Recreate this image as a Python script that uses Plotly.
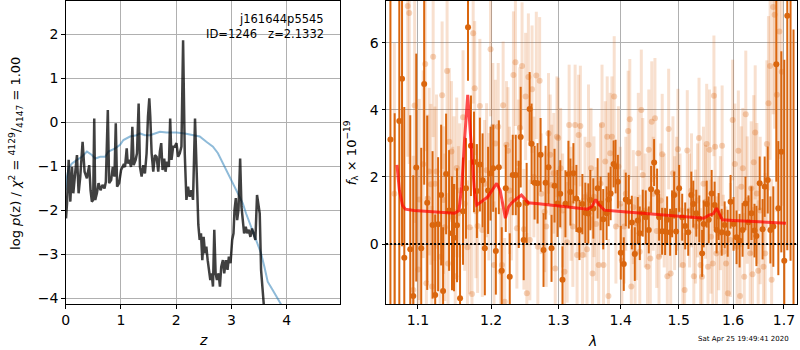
import plotly.graph_objects as go

# ---------------- left panel: p(z) ----------------
z_fit = [0.006, 0.024, 0.054, 0.084, 0.114, 0.138, 0.174, 0.204, 0.234, 0.264,
         0.306, 0.342, 0.384, 0.426, 0.450, 0.474, 0.498, 0.517, 0.535, 0.565,
         0.595, 0.631, 0.667, 0.703, 0.727, 0.763, 0.787, 0.823, 0.853, 0.883,
         0.907, 0.931, 0.967, 1.003, 1.045, 1.075, 1.105, 1.123, 1.153, 1.183,
         1.207, 1.231, 1.267, 1.291, 1.321, 1.345, 1.375, 1.405, 1.435, 1.465,
         1.490, 1.514, 1.532, 1.556, 1.586, 1.616, 1.646, 1.676, 1.706, 1.730,
         1.754, 1.784, 1.808, 1.832, 1.868, 1.892, 1.916, 1.946, 1.976, 2.006,
         2.036, 2.066, 2.096, 2.126, 2.156, 2.186, 2.216, 2.246, 2.276, 2.306,
         2.342, 2.366, 2.384, 2.402, 2.426, 2.450, 2.474, 2.498, 2.523, 2.547,
         2.571, 2.595, 2.619, 2.643, 2.667, 2.691, 2.715, 2.739, 2.769, 2.793,
         2.817, 2.847, 2.871, 2.901, 2.931, 2.955, 2.985, 3.015, 3.039, 3.057,
         3.081, 3.105, 3.129, 3.159, 3.183, 3.207, 3.231, 3.261, 3.285, 3.315,
         3.345, 3.375, 3.405, 3.435, 3.465, 3.495, 3.514, 3.538, 3.568, 3.598, 3.640]
lnp_fit = [-2.19, -1.85, -0.86, -1.81, -1.02, -1.62, -1.13, -0.75, -1.62, -1.24,
           -0.45, -1.13, -1.28, -0.98, -1.55, -1.81, -1.77, 0.08, -1.77, -1.62,
           -1.39, -1.55, -1.43, -1.51, -1.36, 0.27, -1.39, -1.32, -1.02, -1.24,
           -0.03, -1.47, -1.39, -1.09, -0.98, -1.02, -0.60, -0.94, -0.86, -1.02,
           -0.11, -0.98, -0.86, -0.71, 0.42, -1.02, -1.24, -0.98, -1.17, -0.71,
           0.12, 0.54, 0.12, -0.71, -1.13, -0.75, -0.79, -1.13, -0.67, -0.48,
           -1.09, -0.83, -1.13, -0.90, -1.02, 0.08, -0.86, -0.56, -0.56, -0.48,
           -0.79, -0.71, -0.56, 1.86, -0.71, -1.77, -1.47, -1.70, -1.55, -1.77,
           0.08, -1.17, -1.62, -2.34, -2.68, -2.53, -3.14, -2.61, -2.98, -2.83,
           -3.14, -3.44, -3.59, -3.44, -3.74, -2.45, -3.44, -3.59, -3.44, -3.74,
           -3.29, -3.14, -3.44, -3.14, -3.36, -3.06, -3.21, -2.68, -2.53, -2.00,
           -1.73, -2.23, -2.00, -0.83, -1.92, -2.23, -2.53, -2.38, -2.53, -2.45,
           -2.61, -2.42, -2.53, -2.68, -1.66, -2.00, -2.08, -3.36, -3.74, -4.12, -5.00]

z_prior = [0.0, 0.012, 0.054, 0.114, 0.204, 0.294, 0.384, 0.474, 0.535, 0.625,
           0.715, 0.775, 0.895, 0.985, 1.045, 1.165, 1.285, 1.345, 1.435, 1.525,
           1.616, 1.706, 1.826, 2.006, 2.156, 2.306, 2.427, 2.547, 2.667, 2.757,
           2.847, 2.937, 3.027, 3.117, 3.207, 3.267, 3.357, 3.447, 3.537, 3.598,
           3.658, 3.748, 3.838, 3.898, 3.950]
lnp_prior = [-1.55, -1.32, -1.05, -0.94, -0.86, -0.79, -0.67, -0.75, -0.83, -0.79,
             -0.79, -0.67, -0.60, -0.52, -0.41, -0.33, -0.30, -0.26, -0.30, -0.30,
             -0.26, -0.22, -0.24, -0.24, -0.26, -0.30, -0.33, -0.45, -0.56, -0.71,
             -0.94, -1.17, -1.39, -1.62, -1.85, -2.08, -2.38, -2.68, -2.98, -3.29,
             -3.63, -3.82, -4.01, -4.14, -4.30]

z_ticks = [0, 1, 2, 3, 4]
lnp_ticks = [-4, -3, -2, -1, 0, 1, 2]

# ---------------- right panel: spectrum ----------------
lam_a = [1.0646, 1.0700, 1.0759, 1.0794, 1.0823, 1.0900, 1.0939, 1.0978, 1.1043, 1.1082,
         1.1122, 1.1193, 1.1228, 1.1267, 1.1308, 1.1334, 1.1375, 1.1415, 1.1455, 1.1482,
         1.1523, 1.1565, 1.1606, 1.1647, 1.1675, 1.1716, 1.1758, 1.1799, 1.1841, 1.1879,
         1.1911, 1.1957, 1.1992, 1.2030, 1.2068, 1.2111, 1.2153, 1.2211, 1.2269, 1.2313,
         1.2357, 1.2401, 1.2430, 1.2474, 1.2518, 1.2563, 1.2592, 1.2637, 1.2682, 1.2727,
         1.2772, 1.2803, 1.2848, 1.2894, 1.2940, 1.2986, 1.3028, 1.3063, 1.3109, 1.3156,
         1.3187, 1.3234, 1.3281, 1.3329, 1.3376, 1.3423, 1.3471, 1.3503, 1.3551, 1.3621,
         1.3670, 1.3712, 1.3767, 1.3800, 1.3833, 1.3882, 1.3915, 1.3953, 1.4001, 1.4051,
         1.4085, 1.4135, 1.4186, 1.4236, 1.4287, 1.4321, 1.4372, 1.4423, 1.4475, 1.4515,
         1.4567, 1.4619, 1.4654, 1.4706, 1.4759, 1.4794, 1.4847, 1.4882, 1.4918, 1.4953,
         1.5007, 1.5062, 1.5116, 1.5170, 1.5226, 1.5262, 1.5316, 1.5371, 1.5423, 1.5452,
         1.5507, 1.5544, 1.5599, 1.5654, 1.5691, 1.5729, 1.5786, 1.5842, 1.5899, 1.5954,
         1.6011, 1.6068, 1.6126, 1.6183, 1.6239, 1.6297, 1.6355, 1.6414, 1.6452, 1.6516,
         1.6573, 1.6614, 1.6675, 1.6727, 1.6786, 1.6846, 1.6886, 1.6946, 1.7006, 1.7067,
         1.7133, 1.7194]
flux_a = [3.12, -2.60, 3.67, 4.93, -0.41, -0.16, -1.55, 2.28, -0.13, 4.77,
          1.23, 0.57, -1.52, 0.59, 1.46, -1.40, 2.09, 1.00, 0.32, 0.19,
          0.56, -1.62, 0.98, 1.66, 6.47, 2.93, 2.45, 1.58, 2.37, 1.90,
          -0.13, 1.60, 2.10, 2.26, -0.21, 2.29, -0.80, 1.66, -0.98, 2.06,
          2.06, 1.18, 3.19, 0.12, 1.22, 4.03, 2.99, 1.83, 1.81, 2.66,
          -0.18, 1.83, 2.29, -0.13, 1.74, 1.21, 1.50, -1.07, 1.20, 2.08,
          1.55, 2.11, 1.36, 0.42, 1.19, 0.93, 0.91, 1.31, 1.06, 1.66,
          1.21, 0.74, 0.92, 1.33, 1.51, 2.39, 2.31, 1.86, -0.26, -0.60,
          1.33, 1.26, 0.64, -0.30, 0.70, 0.32, 0.92, 0.80, 0.42, 1.63,
          2.43, 1.55, 0.80, 0.38, 0.37, 0.72, 0.35, 0.90, 1.46, 0.37,
          1.66, 0.80, 0.54, 0.35, 1.46, 1.19, 0.92, 0.75, -0.28, 0.60,
          1.19, 0.72, 1.51, 1.16, 0.42, 0.82, 0.35, 0.57, 0.32, 1.26,
          0.60, 0.20, 0.10, 0.42, 1.21, 0.65, 0.92, 0.40, 0.24, 1.81,
          0.44, 1.71, 1.91, 0.42, 0.52, 5.36, 1.07, 2.75, -0.50, 6.81,
          8.50, -2.60]
err_a = [6.0, 6.5, 5.5, 5.0, 4.5, 4.0, 3.6, 3.4, 3.0, 3.0,
         2.6, 2.2, 2.4, 2.0, 2.1, 1.9, 1.8, 1.8, 1.7, 1.6,
         1.7, 1.6, 1.6, 1.5, 1.6, 1.5, 1.5, 1.4, 1.4, 1.4,
         1.4, 1.3, 1.4, 1.3, 1.3, 1.4, 1.3, 1.3, 1.3, 1.2,
         1.2, 1.3, 1.5, 1.2, 1.2, 1.1, 1.2, 1.1, 1.2, 1.1,
         1.1, 1.1, 1.1, 1.0, 1.1, 1.0, 1.0, 1.0, 1.0, 1.0,
         1.0, 0.9, 1.0, 0.9, 0.9, 0.9, 0.9, 0.9, 0.9, 0.9,
         0.8, 0.9, 0.8, 0.8, 0.8, 0.7, 0.8, 0.8, 0.8, 0.8,
         0.8, 0.8, 0.8, 0.8, 0.7, 0.8, 0.7, 0.8, 0.7, 0.7,
         0.7, 0.7, 0.7, 0.7, 0.7, 0.7, 0.7, 0.7, 0.7, 0.7,
         0.7, 0.7, 0.7, 0.7, 0.7, 0.7, 0.7, 0.7, 0.7, 0.7,
         0.7, 0.7, 0.7, 0.7, 0.7, 0.7, 0.7, 0.7, 0.7, 0.8,
         0.8, 0.8, 0.8, 0.8, 0.8, 0.8, 0.8, 0.8, 0.9, 0.8,
         0.9, 0.9, 1.0, 1.0, 1.2, 3.5, 2.0, 3.0, 6.0, 7.0,
         9.0, 9.0]

lam_b = [1.0696, 1.0867, 1.0887, 1.0939, 1.0957, 1.1004, 1.1017, 1.1069, 1.1096, 1.1111,
         1.1129, 1.1148, 1.1171, 1.1184, 1.1201, 1.1224, 1.1246, 1.1294, 1.1321, 1.1340,
         1.1357, 1.1388, 1.1401, 1.1418, 1.1447, 1.1465, 1.1482, 1.1499, 1.1519, 1.1542,
         1.1560, 1.1606, 1.1629, 1.1667, 1.1698, 1.1730, 1.1747, 1.1768, 1.1785, 1.1809,
         1.1841, 1.1875, 1.1908, 1.1936, 1.1968, 1.1992, 1.2025, 1.2042, 1.2061, 1.2102,
         1.2135, 1.2156, 1.2173, 1.2196, 1.2221, 1.2243, 1.2265, 1.2294, 1.2323, 1.2352,
         1.2374, 1.2396, 1.2418, 1.2450, 1.2477, 1.2503, 1.2521, 1.2544, 1.2566, 1.2599,
         1.2626, 1.2663, 1.2686, 1.2713, 1.2738, 1.2788, 1.2813, 1.2848, 1.2874, 1.2897,
         1.2928, 1.2951, 1.2977, 1.2997, 1.3035, 1.3066, 1.3094, 1.3136, 1.3167, 1.3198,
         1.3225, 1.3261, 1.3292, 1.3316, 1.3344, 1.3379, 1.3418, 1.3450, 1.3474, 1.3514,
         1.3538, 1.3562, 1.3594, 1.3638, 1.3667, 1.3692, 1.3716, 1.3745, 1.3777, 1.3797,
         1.3826, 1.3854, 1.3892, 1.3920, 1.3961, 1.3993, 1.4020, 1.4058, 1.4085, 1.4124,
         1.4152, 1.4177, 1.4211, 1.4241, 1.4262, 1.4296, 1.4321, 1.4347, 1.4372, 1.4414,
         1.4453, 1.4475, 1.4501, 1.4526, 1.4552, 1.4582, 1.4612, 1.4652, 1.4682, 1.4708,
         1.4743, 1.4798, 1.4821, 1.4857, 1.4897, 1.4927, 1.4963, 1.4986, 1.5024, 1.5074,
         1.5105, 1.5153, 1.5194, 1.5230, 1.5272, 1.5303, 1.5339, 1.5366, 1.5393, 1.5421,
         1.5448, 1.5485, 1.5507, 1.5531, 1.5559, 1.5586, 1.5619, 1.5641, 1.5663, 1.5688,
         1.5731, 1.5762, 1.5794, 1.5818, 1.5869, 1.5903, 1.5950, 1.5993, 1.6035, 1.6077,
         1.6102, 1.6136, 1.6159, 1.6188, 1.6216, 1.6245, 1.6273, 1.6331, 1.6350, 1.6375,
         1.6399, 1.6428, 1.6461, 1.6486, 1.6526, 1.6591, 1.6624, 1.6657, 1.6689, 1.6722,
         1.6752, 1.6782, 1.6812, 1.6856, 1.6907, 1.6955]
flux_b = [1.50, 7.10, 6.89, -1.37, 4.13, -0.76, 1.33, 2.38, 5.37, -1.17,
          1.36, 2.16, 1.78, -1.27, 5.59, 1.80, 2.16, -0.38, 4.44, 1.31,
          0.50, 5.16, -0.58, 3.05, 2.76, 0.80, 1.71, -0.96, 2.27, 0.92,
          1.60, 3.78, 1.20, -0.10, 0.50, -1.49, 6.29, 4.65, 0.98, 0.54,
          4.12, 0.42, 1.80, 2.20, 1.41, 5.81, 3.50, -0.63, 3.00, 3.50,
          -0.83, -0.63, 4.14, -1.72, 2.96, 2.78, 1.60, 1.31, 5.04, 5.42,
          0.47, 2.41, 3.47, 5.31, 0.44, 4.40, -1.47, 4.98, 0.12, 4.62,
          2.00, 5.03, -0.08, 4.87, 1.50, 0.96, 0.52, 3.30, 2.66, 1.76,
          2.11, -0.73, 3.20, 3.16, 2.26, 1.00, -0.83, 0.05, 3.55, 1.20,
          0.52, 3.55, -0.33, 3.25, 3.52, -0.33, 1.40, -0.16, 2.96, 2.26,
          -0.88, 1.41, 0.60, -0.63, 1.80, 3.55, -0.63, 2.46, 3.20, -1.55,
          2.71, 3.20, 4.40, 0.52, 2.31, 1.20, -0.50, 0.52, 1.50, 3.37,
          3.72, -1.27, 1.10, -0.28, 0.62, 2.71, -0.23, 4.00, 2.06, 1.00,
          -0.68, 2.81, -0.43, 3.65, 1.50, 3.75, 0.39, -0.38, 1.30, 2.68,
          1.00, -0.96, 3.43, -0.88, 2.11, 0.92, 1.50, 2.83, 1.00, -0.63,
          -1.37, 2.79, 1.00, 1.60, -0.96, 0.52, 1.30, 3.16, -0.63, -0.98,
          1.80, 1.26, 2.98, -0.68, 2.81, 0.22, -0.58, 4.42, 2.90, -0.28,
          0.32, 0.92, 2.93, -0.23, -0.58, -1.47, 0.12, 3.70, 2.39, -0.08,
          2.78, -1.55, 1.71, 2.26, -0.98, 3.87, 1.31, -0.28, 1.66, -0.90,
          2.44, 3.33, 1.51, -0.80, 1.00, -0.68, -0.28, 2.98, 4.20, 5.31,
          -1.07, 7.07, 6.84, 4.45, 6.34, 5.14]
err_b = [4.5, 4.5, 4.5, 4.0, 3.5, 3.0, 3.0, 2.8, 2.6, 2.6,
         2.5, 2.5, 2.4, 2.4, 2.4, 2.3, 2.3, 2.3, 2.2, 2.2,
         2.2, 2.2, 2.1, 2.2, 2.1, 2.1, 2.1, 2.0, 2.1, 2.0,
         2.0, 2.0, 2.0, 2.0, 2.0, 2.0, 2.1, 2.0, 2.0, 2.0,
         2.0, 2.0, 1.9, 2.0, 1.9, 2.0, 1.9, 1.9, 1.9, 1.9,
         1.9, 1.9, 1.9, 1.9, 1.9, 1.9, 1.9, 1.8, 1.9, 1.9,
         1.8, 1.9, 1.8, 1.9, 1.8, 1.9, 1.8, 1.9, 1.8, 1.9,
         1.8, 1.9, 1.8, 1.9, 1.8, 1.8, 1.8, 1.8, 1.8, 1.8,
         1.8, 1.8, 1.8, 1.8, 1.8, 1.7, 1.8, 1.8, 1.8, 1.7,
         1.8, 1.8, 1.7, 1.8, 1.8, 1.7, 1.8, 1.7, 1.8, 1.8,
         1.7, 1.8, 1.7, 1.7, 1.8, 1.8, 1.7, 1.8, 1.8, 1.7,
         1.8, 1.8, 1.8, 1.7, 1.8, 1.7, 1.7, 1.7, 1.7, 1.8,
         1.8, 1.7, 1.7, 1.7, 1.7, 1.8, 1.7, 1.8, 1.7, 1.7,
         1.7, 1.8, 1.7, 1.8, 1.7, 1.8, 1.7, 1.7, 1.7, 1.8,
         1.7, 1.7, 1.8, 1.7, 1.7, 1.7, 1.7, 1.8, 1.7, 1.7,
         1.7, 1.8, 1.7, 1.7, 1.7, 1.7, 1.7, 1.8, 1.7, 1.7,
         1.7, 1.7, 1.8, 1.7, 1.8, 1.7, 1.7, 1.8, 1.8, 1.7,
         1.7, 1.7, 1.8, 1.7, 1.7, 1.8, 1.7, 1.8, 1.8, 1.8,
         1.8, 1.9, 1.8, 1.8, 1.9, 1.9, 1.9, 2.0, 2.0, 2.0,
         2.0, 2.0, 2.1, 2.1, 2.2, 2.3, 2.4, 2.5, 2.6, 2.8,
         3.0, 3.2, 3.4, 3.5, 3.8, 4.0]

lam_model = [1.0729, 1.0760, 1.0800, 1.0836, 1.0950, 1.1100, 1.1300, 1.1490, 1.1550, 1.1588,
             1.1630, 1.1671, 1.1705, 1.1736, 1.1765, 1.1795, 1.1850, 1.1950, 1.2030, 1.2080,
             1.2130, 1.2170, 1.2206, 1.2250, 1.2290, 1.2350, 1.2440, 1.2490, 1.2539, 1.2700,
             1.2900, 1.3100, 1.3300, 1.3461, 1.3530, 1.3590, 1.3640, 1.3730, 1.4000, 1.4300,
             1.4600, 1.4900, 1.5100, 1.5300, 1.5450, 1.5550, 1.5630, 1.5690, 1.5740, 1.5800,
             1.6000, 1.6500, 1.7040]
flux_model = [2.36, 1.60, 1.15, 1.04, 1.00, 0.98, 0.95, 0.92, 1.00, 1.71,
              3.20, 4.45, 3.40, 2.31, 1.55, 1.16, 1.25, 1.40, 1.65, 1.81,
              1.60, 1.10, 0.77, 1.10, 1.21, 1.32, 1.46, 1.35, 1.23, 1.20,
              1.16, 1.13, 1.08, 1.04, 1.12, 1.33, 1.18, 1.01, 0.97, 0.93,
              0.89, 0.85, 0.82, 0.79, 0.77, 0.86, 0.90, 1.07, 0.90, 0.72,
              0.70, 0.67, 0.62]

lam_ticks = [1.1, 1.2, 1.3, 1.4, 1.5, 1.6, 1.7]
lam_ticktext = ["1.1", "1.2", "1.3", "1.4", "1.5", "1.6", "1.7"]
flux_ticks = [0, 2, 4, 6]

assert len(z_fit) == len(lnp_fit)
assert len(z_prior) == len(lnp_prior)
assert len(lam_a) == len(flux_a) == len(err_a)
assert len(lam_b) == len(flux_b) == len(err_b)
assert len(lam_model) == len(flux_model)

ORANGE = "rgb(218,102,14)"
ORANGE_L = "rgba(218,102,14,0.28)"
ORANGE_LB = "rgba(218,102,14,0.2)"
FONT = "DejaVu Sans"

fig = go.Figure()

fig.add_trace(go.Scatter(x=z_prior, y=lnp_prior, mode="lines",
                         line=dict(color="rgba(31,119,180,0.5)", width=2),
                         xaxis="x", yaxis="y", hoverinfo="skip"))
fig.add_trace(go.Scatter(x=z_fit, y=lnp_fit, mode="lines",
                         line=dict(color="rgba(0,0,0,0.75)", width=2.5),
                         xaxis="x", yaxis="y", hoverinfo="skip"))

fig.add_trace(go.Scatter(x=lam_b, y=flux_b, mode="markers",
                         marker=dict(size=6, color=ORANGE_L, line=dict(width=0)),
                         error_y=dict(type="data", array=err_b, color=ORANGE_LB,
                                      thickness=3, width=0),
                         xaxis="x2", yaxis="y2", hoverinfo="skip"))
fig.add_trace(go.Scatter(x=lam_a, y=flux_a, mode="markers",
                         marker=dict(size=6, color=ORANGE, line=dict(width=0)),
                         error_y=dict(type="data", array=err_a, color=ORANGE,
                                      thickness=2, width=0),
                         xaxis="x2", yaxis="y2", hoverinfo="skip"))
fig.add_trace(go.Scatter(x=lam_model, y=flux_model, mode="lines",
                         line=dict(color="rgba(255,0,0,0.7)", width=3),
                         xaxis="x2", yaxis="y2", hoverinfo="skip"))

fig.add_shape(type="line", xref="x2 domain", yref="y2", x0=0, x1=1, y0=0, y1=0,
              line=dict(color="black", width=2, dash="2px,2px"))

axc = dict(showgrid=True, gridcolor="#b0b0b0", gridwidth=1, showline=True,
           linecolor="black", linewidth=1, mirror=True, ticks="outside",
           ticklen=3.5, tickwidth=1, tickcolor="black", zeroline=False,
           tickfont=dict(family=FONT, size=14, color="black"))

fig.update_layout(
    width=800, height=350,
    margin=dict(l=0, r=0, t=1, b=46),
    paper_bgcolor="white", plot_bgcolor="white",
    showlegend=False,
    font=dict(family=FONT, color="black"),
    xaxis=dict(domain=[62 / 800, 338 / 800], range=[0, 4.973], tickvals=z_ticks,
               anchor="y", **axc),
    yaxis=dict(domain=[0, 1], range=[-4.136, 2.75], tickvals=lnp_ticks,
               anchor="x", **axc),
    xaxis2=dict(domain=[384 / 800, 797 / 800], type="log", range=[0.02494, 0.23718],
                tickvals=lam_ticks, ticktext=lam_ticktext, anchor="y2", **axc),
    yaxis2=dict(domain=[0, 1], range=[-1.79, 7.25], tickvals=flux_ticks,
                anchor="x2", **axc),
)

def py(px):
    return (304 - px) / 303.0

annos = [
    dict(text="<i>z</i>", x=200 / 800, y=py(340), size=14),
    dict(text="<i>λ</i>", x=591 / 800, y=py(341), size=14),
    dict(text="log <i>p</i>(z) / <i>χ</i><sup>2</sup> = <sup>4129</sup>/<sub>4147</sub> = 1.00",
         x=12 / 800, y=py(153), size=13, angle=-90),
    dict(text="<i>f</i><sub>λ</sub> × 10<sup>−19</sup>", x=349 / 800, y=py(153),
         size=13, angle=-90),
    dict(text="Sat Apr 25 19:49:41 2020", x=743 / 800, y=py(339), size=7),
]
for a in annos:
    fig.add_annotation(text=a["text"], xref="paper", yref="paper", x=a["x"], y=a["y"],
                       xanchor="center", yanchor="middle", showarrow=False,
                       textangle=a.get("angle", 0),
                       font=dict(family=FONT, size=a["size"], color="black"))

fig.add_annotation(text="j161644p5545", xref="paper", yref="paper",
                   x=324 / 800, y=py(19), xanchor="right", yanchor="middle",
                   showarrow=False, font=dict(family=FONT, size=11.5, color="black"))
fig.add_annotation(text="ID=1246\u00a0\u00a0\u00a0z=2.1332", xref="paper", yref="paper",
                   x=324 / 800, y=py(34), xanchor="right", yanchor="middle",
                   showarrow=False, font=dict(family=FONT, size=11.5, color="black"))

fig.write_html("out.html",
               config={"displayModeBar": False},
               post_script="document.body.style.margin='0px';document.body.style.padding='0px';")
